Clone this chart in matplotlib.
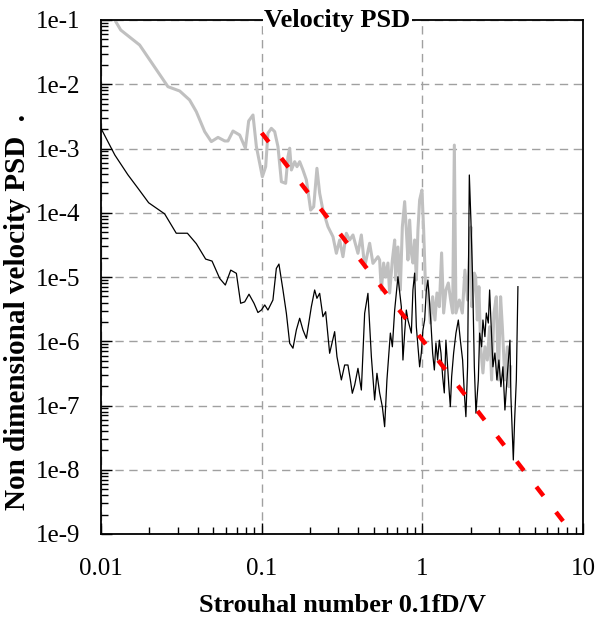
import matplotlib
matplotlib.use("Agg")
import matplotlib.pyplot as plt
from matplotlib.ticker import FixedLocator, LogLocator, NullFormatter

# grey spectrum (upper curve)
gray_x = [0.0118, 0.01327, 0.0174, 0.0261, 0.0309, 0.0356, 0.0392, 0.0442, 0.0486, 0.0535,
          0.0589, 0.0617, 0.0663, 0.0730, 0.0792, 0.0830, 0.0883, 0.0927, 0.1010, 0.1059,
          0.1094, 0.1149, 0.1205, 0.1263, 0.1327, 0.1410, 0.1458, 0.1494, 0.1531, 0.1605,
          0.1659, 0.1724, 0.1807, 0.1898, 0.2018, 0.2108, 0.2208, 0.2296, 0.2406, 0.2586,
          0.2778, 0.2917, 0.3058, 0.3206, 0.3366, 0.3528, 0.3700, 0.3974, 0.4173, 0.4375,
          0.4699, 0.4928, 0.5295, 0.5423, 0.5555, 0.5743, 0.5909, 0.6109, 0.6259, 0.6508,
          0.6727, 0.6822, 0.7050, 0.7295, 0.7508, 0.7761, 0.7950, 0.8135, 0.8337, 0.8544,
          0.8739, 0.8956, 0.9177, 0.9389, 0.9620, 0.9943, 1.019, 1.048, 1.079, 1.122,
          1.159, 1.198, 1.233, 1.276, 1.318, 1.357, 1.402, 1.451, 1.500, 1.544,
          1.582, 1.619, 1.699, 1.774, 1.841, 1.913, 1.978, 2.006, 2.035, 2.107,
          2.147, 2.199, 2.250, 2.306, 2.383, 2.452, 2.538, 2.623, 2.699, 2.790,
          2.887, 2.971, 3.070, 3.147, 3.266, 3.381, 3.459, 3.544]
gray_y = [0.115, 0.0698, 0.0408, 9.17e-3, 7.85e-3, 5.69e-3, 3.74e-3, 1.83e-3, 1.28e-3, 1.49e-3,
          1.31e-3, 1.31e-3, 1.87e-3, 1.62e-3, 1.01e-3, 2.68e-3, 3.32e-3, 1.07e-3, 3.64e-4, 5.21e-4,
          1.73e-3, 2.06e-3, 1.83e-3, 1.07e-3, 3.04e-4, 2.87e-4, 7.45e-4, 1.01e-3, 4.63e-4, 6.24e-4,
          5.21e-4, 6.24e-4, 4.63e-4, 3.24e-4, 1.10e-4, 1.24e-4, 4.92e-4, 2.01e-4, 1.10e-4, 6.07e-5,
          4.24e-5, 2.34e-5, 3.77e-5, 2.07e-5, 4.79e-5, 3.77e-5, 4.51e-5, 2.34e-5, 4.51e-5, 1.44e-5,
          3.35e-5, 1.63e-5, 2.07e-5, 1.84e-5, 6.28e-6, 1.65e-5, 1.0e-5, 1.65e-5, 5.64e-6, 1.84e-5,
          3.77e-5, 8.98e-6, 2.93e-5, 6.28e-6, 6.0e-5, 1.49e-4, 5.4e-5, 1.84e-5, 7.7e-5, 2.37e-5,
          1.65e-5, 3.77e-5, 8.98e-6, 5.4e-5, 1.58e-4, 2.26e-4, 5.4e-5, 6.28e-6, 7.07e-6, 1.92e-6,
          4.93e-6, 2.14e-6, 5.64e-6, 3.45e-6, 2.37e-5, 2.75e-6, 6.28e-6, 8.07e-6, 4.38e-6, 2.75e-6,
          1.13e-3, 2.75e-6, 4.38e-6, 2.75e-6, 1.28e-5, 4.38e-6, 2.96e-5, 6.0e-5, 3.45e-6, 1.15e-5,
          1.01e-5, 2.14e-6, 7.07e-6, 8.2e-7, 3.21e-7, 8.2e-7, 5.1e-7, 1.68e-6, 2.5e-7, 2.75e-6,
          4.93e-6, 2.5e-7, 4.93e-6, 1.68e-6, 2.5e-7, 8.2e-7, 1.96e-7, 4.0e-7]

# black spectrum (lower curve)
black_x = [0.0100, 0.0122, 0.0147, 0.0170, 0.0198, 0.0249, 0.0294, 0.0345, 0.0392, 0.0448,
           0.0491, 0.0548, 0.0594, 0.0642, 0.0696, 0.0740, 0.0784, 0.0834, 0.0896, 0.0948,
           0.0996, 0.1045, 0.1094, 0.1175, 0.1234, 0.1281, 0.1357, 0.1425, 0.1494, 0.1566,
           0.1644, 0.1724, 0.1807, 0.1898, 0.2038, 0.2137, 0.2208, 0.2296, 0.2406, 0.2502,
           0.2649, 0.2846, 0.2942, 0.3133, 0.3285, 0.3443, 0.3565, 0.3666, 0.3792, 0.3975,
           0.4173, 0.4375, 0.4586, 0.4817, 0.5048, 0.5218, 0.5423, 0.5637, 0.5826, 0.6021,
           0.6324, 0.6508, 0.6727, 0.7050, 0.7400, 0.7574, 0.7761, 0.7950, 0.8135, 0.8544,
           0.8739, 0.8956, 0.9177, 0.9389, 0.9620, 0.9858, 1.0086, 1.0335, 1.059, 1.083,
           1.106, 1.131, 1.159, 1.188, 1.215, 1.245, 1.276, 1.306, 1.338, 1.370,
           1.402, 1.437, 1.472, 1.494, 1.522, 1.566, 1.619, 1.675, 1.724, 1.781,
           1.825, 1.867, 1.913, 1.961, 2.006, 2.056, 2.107, 2.156, 2.231, 2.273,
           2.339, 2.383, 2.452, 2.502, 2.574, 2.623, 2.688, 2.750, 2.830, 2.912,
           2.996, 3.084, 3.174, 3.266, 3.361, 3.459, 3.509, 3.559, 3.631, 3.684,
           3.753, 3.846, 3.935]
black_y = [2.06e-3, 7.9e-4, 3.9e-4, 2.4e-4, 1.43e-4, 9.6e-5, 4.8e-5, 4.8e-5, 3.3e-5, 1.9e-5,
           1.77e-5, 9.5e-6, 7.5e-6, 1.28e-5, 1.14e-5, 3.9e-6, 4.1e-6, 5.4e-6, 3.9e-6, 2.8e-6,
           3.06e-6, 3.67e-6, 3.06e-6, 4.38e-6, 1.36e-5, 1.59e-5, 6.28e-6, 2.72e-6, 9.3e-7, 7.8e-7,
           1.50e-6, 2.28e-6, 1.50e-6, 1.11e-6, 3.45e-6, 6.28e-6, 4.66e-6, 5.57e-6, 2.41e-6, 2.88e-6,
           6.5e-7, 1.41e-6, 5.75e-7, 2.5e-7, 4.27e-7, 4.27e-7, 2.5e-7, 1.55e-7, 2.08e-7, 3.79e-7,
           1.74e-7, 2.72e-6, 5.57e-6, 5.75e-7, 1.22e-7, 3.17e-7, 1.57e-7, 9.6e-8, 4.68e-8, 2.5e-7,
           1.34e-6, 8.2e-7, 3.06e-6, 1.01e-5, 3.45e-6, 5.1e-7, 1.34e-6, 3.06e-6, 2.14e-6, 1.34e-6,
           6.28e-6, 1.15e-5, 1.68e-6, 8.2e-7, 4.0e-7, 6.56e-7, 1.50e-6, 2.14e-6, 6.28e-6, 8.98e-6,
           4.38e-6, 1.92e-6, 6.56e-7, 3.57e-7, 9.4e-7, 5.1e-7, 1.04e-6, 6.56e-7, 2.81e-7, 1.57e-7,
           1.04e-6, 4.0e-7, 1.57e-7, 9.6e-8, 2.81e-7, 6.56e-7, 1.34e-6, 2.14e-6, 1.04e-6, 5.1e-7,
           1.57e-7, 6.7e-8, 4.0e-7, 3.87e-4, 7.7e-5, 8.98e-6, 4.0e-7, 7.6e-8, 2.5e-7, 1.34e-6,
           8.2e-7, 2.14e-6, 1.18e-6, 2.75e-6, 1.92e-6, 6.28e-6, 1.50e-6, 4.0e-7, 6.56e-7, 2.5e-7,
           5.1e-7, 1.96e-7, 4.0e-7, 8.5e-8, 2.5e-7, 6.56e-7, 1.04e-6, 1.37e-7, 3.73e-8, 1.42e-8,
           5.9e-8, 2.5e-7, 7.07e-6]

# red dashed reference slope
red_x = [0.1, 8.3]
red_y = [1.75e-3, 1.15e-9]

y_ticks = [1e-9, 1e-8, 1e-7, 1e-6, 1e-5, 1e-4, 1e-3, 1e-2, 1e-1]
y_labels = ["1e-9", "1e-8", "1e-7", "1e-6", "1e-5", "1e-4", "1e-3", "1e-2", "1e-1"]
x_ticks = [0.01, 0.1, 1, 10]
x_labels = ["0.01", "0.1", "1", "10"]

plt.rcParams["font.family"] = ["Liberation Serif", "DejaVu Serif"]

fig = plt.figure(figsize=(5.98, 6.23), dpi=100)
ax = fig.add_axes([101 / 598, 1 - 534 / 623, 482 / 598, 514 / 623])

ax.plot(gray_x, gray_y, color="#c0c0c0", lw=2.2, zorder=2)
ax.plot(black_x, black_y, color="black", lw=0.9, zorder=3)
ax.plot(red_x, red_y, color="red", lw=3.2, dashes=(2.6, 4.6), zorder=4)

ax.set_xscale("log")
ax.set_yscale("log")
ax.set_xlim(0.01, 10)
ax.set_ylim(1e-9, 1e-1)

ax.xaxis.set_major_locator(FixedLocator(x_ticks))
ax.set_xticklabels(x_labels)
ax.yaxis.set_major_locator(FixedLocator(y_ticks))
ax.set_yticklabels(y_labels)
ax.xaxis.set_minor_locator(LogLocator(base=10, subs=range(2, 10), numticks=20))
ax.yaxis.set_minor_locator(LogLocator(base=10, subs=range(2, 10), numticks=20))
ax.xaxis.set_minor_formatter(NullFormatter())
ax.yaxis.set_minor_formatter(NullFormatter())

ax.tick_params(which="both", direction="in", top=False, right=False, labelsize=18)
ax.tick_params(which="major", length=8, width=1)
ax.tick_params(which="minor", length=5, width=1)
ax.tick_params(axis="y", which="major", pad=15)
ax.tick_params(axis="x", which="major", pad=17)

ax.grid(True, which="major", color="#a0a0a0", linestyle=(0, (6, 4)), lw=1)
for s in ax.spines.values():
    s.set_linewidth(1.3)
    s.set_color("black")

ax.text(0.49, 1.0, "Velocity PSD", transform=ax.transAxes, ha="center", va="center",
        fontsize=19, fontweight="bold", zorder=10,
        bbox=dict(facecolor="white", edgecolor="none", pad=1))

ax.set_xlabel("Strouhal number 0.1fD/V", fontsize=19, fontweight="bold", labelpad=10)
fig.text(18 / 598, 1 - 312 / 623, "Non dimensional velocity PSD  .", rotation=90,
         ha="center", va="center", fontsize=21, fontweight="bold")

fig.savefig("out.png", dpi=100)
